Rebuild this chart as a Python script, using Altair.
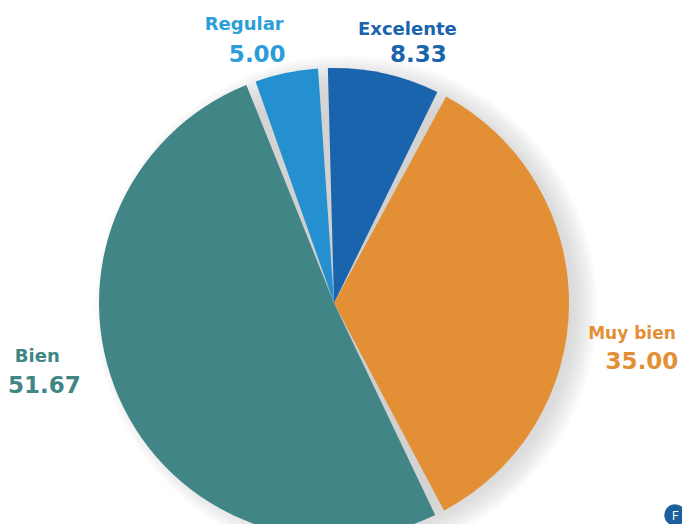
import math
import altair as alt
import pandas as pd

categories = ["Excelente", "Muy bien", "Bien", "Regular"]
values = [8.33, 35.00, 51.67, 5.00]
value_labels = ["8.33", "35.00", "51.67", "5.00"]
slice_colors = ["#1a63ad", "#e38f35", "#428586", "#2490d0"]
label_colors = ["#1a63ad", "#e38f35", "#3f8685", "#2a9ed8"]

df = pd.DataFrame({
    "cat": categories,
    "val": values,
    "lab": value_labels,
    "ord": list(range(len(categories))),
})

W, H = 674, 516
CX, CY = 326, 295
R = 235
START = math.radians(-2.7)
theta_scale = alt.Scale(domain=[0, 100], range=[START, START + 2 * math.pi])
color_scale = alt.Scale(domain=categories, range=slice_colors)

base = alt.Chart(df)

shadow_fill = alt.RadialGradient(
    gradient="radial",
    stops=[
        alt.GradientStop(color="#cdcdcd", offset=0),
        alt.GradientStop(color="#d4d4d4", offset=0.84),
        alt.GradientStop(color="#dedede", offset=0.91),
        alt.GradientStop(color="#eeeeee", offset=0.96),
        alt.GradientStop(color="#ffffff", offset=1),
    ],
    x1=0.5, y1=0.5, r1=0, x2=0.5, y2=0.5, r2=0.5,
)

shadow = base.transform_aggregate(total="sum(val)").mark_arc(
    radius=252, fill=shadow_fill, stroke=None
).encode(
    theta=alt.Theta("total:Q", stack=True, scale=theta_scale),
    x=alt.value(CX + 12),
    y=alt.value(CY + 4),
)

pie = base.mark_arc(radius=R, padAngle=0.042, stroke=None).encode(
    theta=alt.Theta("val:Q", stack=True, scale=theta_scale),
    color=alt.Color("cat:N", scale=color_scale, legend=None),
    order=alt.Order("ord:Q"),
    x=alt.value(CX),
    y=alt.value(CY),
)

# label placement: radius and offsets per category (name line, value line)
label_cfg = {
    "Excelente": dict(r=265, ndx=17, ndy=-14, vdx=28, vdy=11, nfs=18),
    "Muy bien": dict(r=310, ndx=-12, ndy=29, vdx=-2, vdy=57, nfs=17),
    "Bien": dict(r=300, ndx=-22, ndy=-67, vdx=-15, vdy=-38, nfs=18),
    "Regular": dict(r=270, ndx=-35, ndy=-14, vdx=-22, vdy=16, nfs=18),
}

lab_base = base.transform_window(
    cum="sum(val)", sort=[alt.SortField("ord")]
).transform_calculate(mid="datum.cum - datum.val / 2")

FONT = "DejaVu Sans"
labels = []
for cat, lc in zip(categories, label_colors):
    c = label_cfg[cat]
    sub = lab_base.transform_filter(alt.datum.cat == cat)
    enc = dict(
        theta=alt.Theta("mid:Q", stack=False, scale=theta_scale),
        x=alt.value(CX),
        y=alt.value(CY),
    )
    labels.append(
        sub.mark_text(radius=c["r"], dx=c["ndx"], dy=c["ndy"], font=FONT, fontSize=c["nfs"],
                      fontWeight="bold", color=lc, align="center", baseline="middle").encode(
            text="cat:N", **enc)
    )
    labels.append(
        sub.mark_text(radius=c["r"], dx=c["vdx"], dy=c["vdy"], font=FONT, fontSize=23,
                      fontWeight="bold", color=lc, align="center", baseline="middle").encode(
            text="lab:N", **enc)
    )

badge_df = pd.DataFrame({"t": ["F"]})
badge = alt.Chart(badge_df).mark_circle(size=460, color="#1d5e9c", opacity=1).encode(
    x=alt.value(667), y=alt.value(507)
)
badge_txt = alt.Chart(badge_df).mark_text(font="Open Sans", fontSize=13, color="white", align="center",
                                          baseline="middle").encode(
    x=alt.value(667), y=alt.value(508), text="t:N"
)

chart = alt.layer(shadow, pie, *labels, badge, badge_txt).properties(
    width=W, height=H, autosize=alt.AutoSizeParams(type="none"), padding=0
).configure_view(stroke=None)

chart.save("out.html", embed_options={"renderer": "svg", "actions": False})
